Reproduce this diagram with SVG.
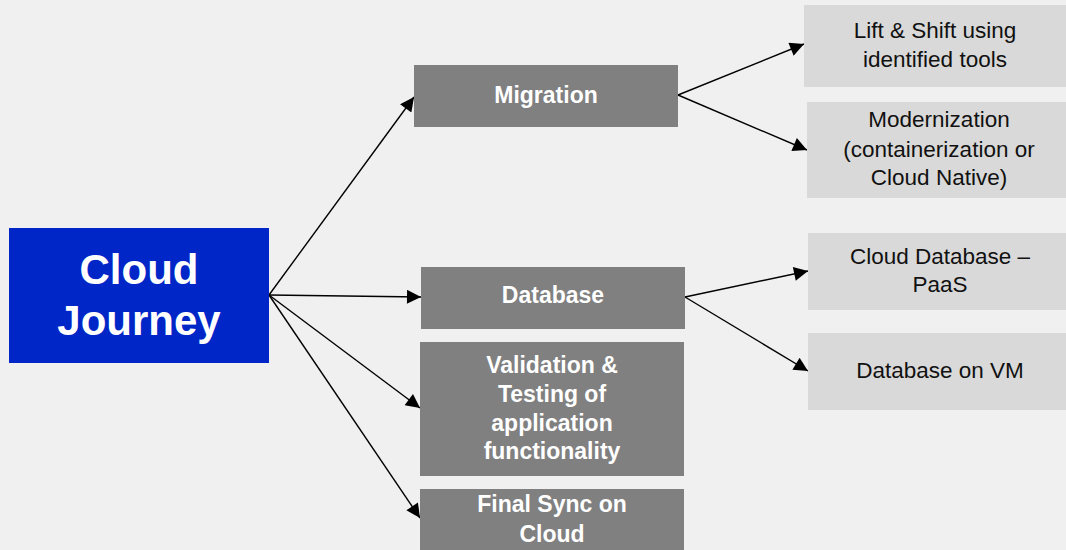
<svg xmlns="http://www.w3.org/2000/svg" width="1066" height="550" viewBox="0 0 1066 550">
<defs>
<style>
.bg{fill:#f0f0f0}
.main{fill:#0026c8}
.mid{fill:#808080}
.leaf{fill:#d9d9d9}
.tw{font-family:"Liberation Sans",Arial,sans-serif;font-weight:bold;fill:#ffffff;text-anchor:middle;font-size:23px}
.tb{font-family:"Liberation Sans",Arial,sans-serif;fill:#111111;text-anchor:middle;font-size:22.5px}
.big{font-size:42px}
.c{stroke:#000;stroke-width:1.4;fill:none;marker-end:url(#ah)}
</style>
<marker id="ah" viewBox="0 0 10 10" refX="10" refY="5" markerWidth="16" markerHeight="14" markerUnits="userSpaceOnUse" orient="auto">
<path d="M0,0 L10,5 L0,10 Z" fill="#000"/>
</marker>
</defs>
<rect class="bg" x="0" y="0" width="1066" height="550"/>
<g id="connectors">
<line class="c" x1="269" y1="295" x2="414" y2="97"/>
<line class="c" x1="269" y1="295" x2="421" y2="297"/>
<line class="c" x1="269" y1="295" x2="420" y2="408"/>
<line class="c" x1="269" y1="295" x2="420" y2="518"/>
<line class="c" x1="678" y1="95" x2="804" y2="44"/>
<line class="c" x1="678" y1="95" x2="807" y2="150"/>
<line class="c" x1="685" y1="297" x2="808" y2="271"/>
<line class="c" x1="685" y1="297" x2="808" y2="371"/>
</g>
<g id="cloud-journey">
<rect class="main" x="9" y="228" width="260" height="135"/>
<text class="tw big" x="139" y="284">Cloud</text>
<text class="tw big" x="139" y="335">Journey</text>
</g>
<g id="migration">
<rect class="mid" x="414" y="65" width="264" height="62"/>
<text class="tw" x="546" y="103">Migration</text>
</g>
<g id="database">
<rect class="mid" x="421" y="267" width="264" height="62"/>
<text class="tw" x="553" y="303">Database</text>
</g>
<g id="validation">
<rect class="mid" x="420" y="342" width="264" height="134"/>
<text class="tw" x="552" y="373">Validation &amp;</text>
<text class="tw" x="552" y="402">Testing of</text>
<text class="tw" x="552" y="431">application</text>
<text class="tw" x="552" y="459">functionality</text>
</g>
<g id="final-sync">
<rect class="mid" x="420" y="489" width="264" height="70"/>
<text class="tw" x="552" y="512">Final Sync on</text>
<text class="tw" x="552" y="542">Cloud</text>
</g>
<g id="lift-shift">
<rect class="leaf" x="804" y="5" width="270" height="82"/>
<text class="tb" x="935" y="38">Lift &amp; Shift using</text>
<text class="tb" x="935" y="67">identified tools</text>
</g>
<g id="modernization">
<rect class="leaf" x="807" y="102" width="270" height="96"/>
<text class="tb" x="939" y="127">Modernization</text>
<text class="tb" x="939" y="157">(containerization or</text>
<text class="tb" x="939" y="185">Cloud Native)</text>
</g>
<g id="cloud-db-paas">
<rect class="leaf" x="808" y="233" width="270" height="77"/>
<text class="tb" x="940" y="264">Cloud Database –</text>
<text class="tb" x="940" y="292">PaaS</text>
</g>
<g id="db-on-vm">
<rect class="leaf" x="808" y="333" width="270" height="77"/>
<text class="tb" x="940" y="378">Database on VM</text>
</g>
</svg>
